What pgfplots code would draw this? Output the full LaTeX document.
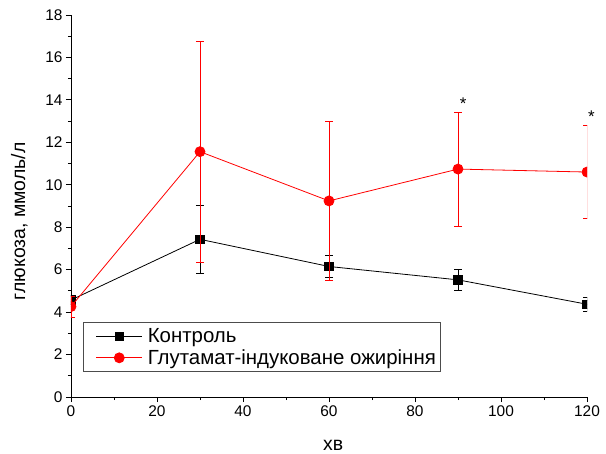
\documentclass[border=0pt]{standalone}
\usepackage{fontspec}
\setmainfont{Liberation Sans}
\usepackage{pgfplots}
\pgfplotsset{compat=1.18}
\begin{document}
\begin{tikzpicture}
\useasboundingbox (-71bp,-57bp) rectangle (535bp,397bp);
\begin{axis}[
  scale only axis, width=516bp, height=382bp,
  xmin=0, xmax=120, ymin=0, ymax=18,
  axis x line=bottom, axis y line=left,
  axis line style={-, line width=0.9bp},
  xtick={0,20,...,120}, ytick={0,2,...,18},
  minor x tick num=1, minor y tick num=1,
  tick align=outside,
  major tick length=5bp, minor tick length=3bp,
  tick style={line width=0.9bp, black},
  /pgf/number format/assume math mode=true,
  ticklabel style={font=\fontsize{15.5}{17}\selectfont},
  xlabel={хв}, ylabel={глюкоза, ммоль/л},
  label style={font=\fontsize{19.5}{21}\selectfont},
  xlabel style={at={(axis description cs:0.508,-0.1406)}, anchor=base, inner sep=0pt},
  ylabel style={at={(axis description cs:-0.1,0.46)}, anchor=center},
  clip mode=individual, clip marker paths=true,
  legend style={at={(axis description cs:0.023,0.065)}, anchor=south west,
    draw=black!70, line width=0.8bp, font=\fontsize{20.5}{22}\selectfont,
    inner xsep=2bp, inner ysep=3bp, row sep=0bp,
    nodes={inner ysep=2.8bp, inner xsep=2.5bp}},
  legend cell align=left,
  legend image code/.code={\path[draw=none,fill=none] (0bp,-3bp) rectangle (60bp,3bp);\draw[mark repeat=2,mark phase=2,#1] plot coordinates {(11bp,0bp)(34bp,0bp)(57bp,0bp)};},
]
\addplot[black, line width=0.8bp, mark=square*, mark size=4.3bp, mark options={solid},
  error bars/.cd, y dir=both, y explicit,
  error bar style={line width=0.8bp, black},
  error mark options={rotate=90, mark size=4bp, line width=0.8bp, black}]
  coordinates {
  (0,4.57) +- (0,0.2)
  (30,7.43) +- (0,1.6)
  (60,6.15) +- (0,0.52)
  (90,5.52) +- (0,0.5)
  (120,4.37) +- (0,0.34)
};
\addlegendentry{Контроль}
\addplot[red, line width=0.8bp, mark=*, mark size=5bp, mark options={solid, fill=red},
  error bars/.cd, y dir=both, y explicit,
  error bar style={line width=0.8bp, red},
  error mark options={rotate=90, mark size=4bp, line width=0.8bp, red}]
  coordinates {
  (0,4.26) +- (0,0.5)
  (30,11.56) +- (0,5.2)
  (60,9.24) +- (0,3.73)
  (90,10.74) +- (0,2.68)
  (120,10.6) +- (0,2.2)
};
\addlegendentry{Глутамат-індуковане ожиріння}
\node[font=\fontsize{17}{18}\selectfont] at (axis cs:91.2,13.8) {*};
\node[font=\fontsize{17}{18}\selectfont] at (axis cs:121,13.2) {*};
\end{axis}
\end{tikzpicture}
\end{document}
